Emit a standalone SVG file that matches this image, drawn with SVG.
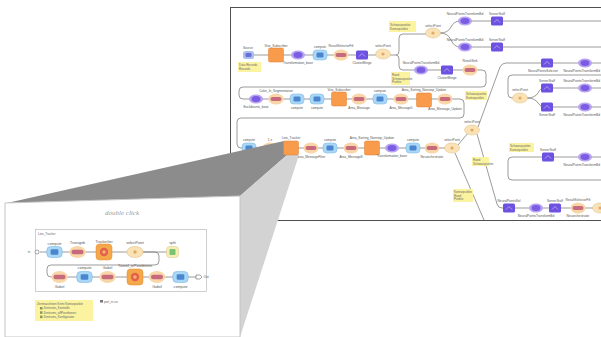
<svg xmlns="http://www.w3.org/2000/svg" xmlns:xlink="http://www.w3.org/1999/xlink" width="601" height="337" viewBox="0 0 601 337">
<style>
.w{stroke:#707070;stroke-width:0.7;fill:none}
.lb{font-family:"Liberation Sans",Arial,sans-serif;font-size:3.2px;fill:#555;text-anchor:middle}
.lbe{font-family:"Liberation Sans",Arial,sans-serif;font-size:3.2px;fill:#555;text-anchor:end}
.lbs{font-family:"Liberation Sans",Arial,sans-serif;font-size:3.6px;fill:#555;text-anchor:middle}
.nt{fill:#fbf3a0}
.ntt{font-family:"Liberation Sans",Arial,sans-serif;font-size:3px;fill:#666}
</style>
<defs>
<g id="blue"><rect x="-7" y="-5" width="14" height="10" rx="3.5" fill="#a9d7f5" stroke="#74b4e2" stroke-width="0.5"/><rect x="-3.5" y="-2.5" width="7" height="5" rx="1.2" fill="#4a86cf"/></g>
<g id="pink"><ellipse rx="7.5" ry="5.5" fill="#f8d6a8"/><rect x="-5.5" y="-2" width="11" height="4" rx="2" fill="#c86a7e"/></g>
<g id="lo"><ellipse rx="7.5" ry="5" fill="#f9e3b6" stroke="#e2bb80" stroke-width="0.5"/><circle r="1.6" fill="#e6a863"/></g>
<g id="osq"><rect x="-7.5" y="-7" width="15" height="14" rx="1.5" fill="#f89c4c" stroke="#e27c32" stroke-width="0.5"/></g>
<g id="psq"><rect x="-6" y="-4.5" width="12" height="9" rx="1.5" fill="#6d52e2"/><path d="M-3,1.5 L0,-1.5 L3,1.5" stroke="#c9bff7" stroke-width="0.7" fill="none"/></g>
<g id="pov"><ellipse rx="7" ry="4.6" fill="#b8a3f2"/><ellipse rx="4.5" ry="3" fill="#7a5de2"/></g>
<g id="big"><rect x="-8" y="-8" width="16" height="16" rx="3.5" fill="#f5a84a" stroke="#e08a30" stroke-width="0.5"/><circle r="4.2" fill="#e2604c"/><circle r="1.8" fill="#f7b070"/></g>
<g id="grn"><rect x="-6" y="-5.5" width="12" height="11" rx="3" fill="#f6ecb8" stroke="#d8c880" stroke-width="0.5"/><rect x="-3" y="-3" width="6" height="6" rx="1" fill="#7cc472"/></g>
</defs>

<!-- main window -->
<rect x="230.5" y="7.5" width="380" height="213" fill="#fff" stroke="#505050" stroke-width="1"/>

<g id="connectors">
<path class="w" d="M254,55 H396 Q399,55 399,51 V38 Q399,34 403,34 H430"/>
<path class="w" d="M396,55 Q399,55 399,59 V66 Q399,70 403,70 H482 Q486,70 486,74 V83 Q486,87 482,87 H243 Q239,87 239,91 V95 Q239,99 243,99 H460 Q464,99 464,103 V114 Q464,118 460,118 H241 Q237,118 237,122 V144 Q237,148 241,148 H452"/>
<path class="w" d="M440,33 Q448,33 451,27 Q454,21 460,21 H601"/>
<path class="w" d="M440,33 Q448,33 451,40 Q454,47 460,47 H601"/>
<path class="w" d="M458,145 L468,133"/>
<path class="w" d="M478,127 L500,67 Q502,63 506,63 H601"/>
<path class="w" d="M477,134 L497,204 Q498,208 502,208 H601"/>
<path class="w" d="M455,153 L484,220"/>
<path class="w" d="M601,75 H512 Q508,75 508,79 V94 Q508,98 512,98 H520"/>
<path class="w" d="M527,98 Q535,98 538,93 Q540,88 545,88 H601"/>
<path class="w" d="M527,98 Q535,98 538,103 Q540,107 545,107 H601"/>
<path class="w" d="M601,180 H512 Q508,180 508,176 V161 Q508,157 512,157 H601"/>
</g>

<!-- notes -->
<g id="note1"><rect class="nt" x="238" y="62" width="23" height="10"/><text class="ntt" x="239" y="66">Data Records</text><text class="ntt" x="239" y="70">Records</text></g>
<g id="note2"><rect class="nt" x="389" y="21" width="27" height="11"/><text class="ntt" x="390" y="25.5">Schwarzpunkte</text><text class="ntt" x="390" y="29.5">Konturpunkte</text></g>
<g id="note3"><rect class="nt" x="391" y="72" width="19" height="13"/><text class="ntt" x="392" y="76">Rand</text><text class="ntt" x="392" y="79.5">Schwarzpunkte</text><text class="ntt" x="392" y="83">Punkte</text></g>
<g id="note4"><rect class="nt" x="465" y="91" width="22" height="9"/><text class="ntt" x="466" y="95">Schwarzpunkte</text><text class="ntt" x="466" y="98.5">Konturpunkte</text></g>
<g id="note5"><rect class="nt" x="509" y="143" width="25" height="9"/><text class="ntt" x="510" y="147">Schwarzpunkte</text><text class="ntt" x="510" y="150.5">Konturpunkte</text></g>
<g id="note6"><rect class="nt" x="472" y="157" width="17" height="9"/><text class="ntt" x="473" y="161">Rand</text><text class="ntt" x="473" y="164.5">Schwarzpunkte</text></g>
<g id="note7"><rect class="nt" x="453" y="189" width="20" height="13"/><text class="ntt" x="454" y="193">Konturpunkte</text><text class="ntt" x="454" y="196.5">Rand</text><text class="ntt" x="454" y="200">Punkte</text></g>

<!-- row 1 -->
<g id="r1a"><rect x="243" y="51" width="11" height="8" rx="2.5" fill="#a8c0ee"/><rect x="245.5" y="53" width="6" height="4" rx="1" fill="#6a6fd8"/><text class="lb" x="248" y="48.5">Source</text></g>
<g id="r1b"><use xlink:href="#osq" x="276" y="55"/><text class="lb" x="276" y="46.5">Vive_Subscriber</text></g>
<g id="r1c"><use xlink:href="#pov" x="298" y="55"/><text class="lb" x="298" y="64">Transformation_base</text></g>
<g id="r1d"><use xlink:href="#blue" x="320" y="55"/><text class="lb" x="320" y="48">compute</text></g>
<g id="r1e"><use xlink:href="#pink" x="341" y="55"/><text class="lb" x="341" y="47">ResultSelectorFilt</text></g>
<g id="r1f"><use xlink:href="#psq" x="362" y="55"/><text class="lb" x="362" y="64">ClusterMerge</text></g>
<g id="r1g"><use xlink:href="#lo" x="383" y="54"/><text class="lb" x="383" y="47">selectPoint</text></g>
<g id="r1h"><use xlink:href="#lo" x="433" y="33"/><text class="lb" x="433" y="26.5">selectPoint</text></g>
<g id="r1i"><use xlink:href="#pov" x="465" y="21"/><text class="lb" x="465" y="14.5">NeuralPointsTransformBd</text></g>
<g id="r1j"><use xlink:href="#psq" x="497" y="21"/><text class="lb" x="497" y="15">ServerStaff</text></g>
<g id="r1k"><use xlink:href="#pov" x="465" y="47"/><text class="lb" x="465" y="40.5">NeuralPointsTransformBd</text></g>
<g id="r1l"><use xlink:href="#psq" x="497" y="47"/><text class="lb" x="497" y="41">ServerStaff</text></g>
<g id="r1m"><use xlink:href="#pov" x="421" y="70"/><text class="lb" x="421" y="63.5">NeuralPointsTransformBd</text></g>
<g id="r1n"><use xlink:href="#psq" x="447" y="70"/><text class="lb" x="447" y="79">ClusterMerge</text></g>
<g id="r1o"><use xlink:href="#pink" x="470" y="70"/><text class="lb" x="470" y="62">ResultSink</text></g>

<!-- row 2 -->
<g id="r2a"><use xlink:href="#pov" x="256" y="99"/><text class="lb" x="256" y="108">Euclideantx_base</text></g>
<g id="r2b"><use xlink:href="#pink" x="276" y="99"/><text class="lb" x="276" y="91.5">Color_In_Segmentation</text></g>
<g id="r2c"><use xlink:href="#blue" x="297" y="99"/><text class="lb" x="297" y="108.5">compute</text></g>
<g id="r2d"><use xlink:href="#blue" x="317" y="99"/><text class="lb" x="317" y="108.5">compute</text></g>
<g id="r2e"><use xlink:href="#osq" x="339" y="99"/><text class="lb" x="339" y="90.5">Vive_Subscriber</text></g>
<g id="r2f"><use xlink:href="#pink" x="359" y="99"/><text class="lb" x="359" y="109">Area_Message</text></g>
<g id="r2g"><use xlink:href="#blue" x="380" y="99"/><text class="lb" x="380" y="92">compute</text></g>
<g id="r2h"><use xlink:href="#pink" x="401" y="99"/><text class="lb" x="401" y="109">Area_Message5</text></g>
<g id="r2i"><use xlink:href="#osq" x="424" y="100"/><text class="lb" x="424" y="91">Area_Sorting_Nonstop_Update</text></g>
<g id="r2j"><use xlink:href="#pink" x="445" y="99"/><text class="lb" x="445" y="110">Area_Message_Update</text></g>

<!-- row 3 -->
<g id="r3a"><use xlink:href="#blue" x="249" y="148"/><text class="lb" x="249" y="140.5">compute</text></g>
<g id="r3b"><use xlink:href="#pink" x="270" y="148"/><text class="lb" x="270" y="141">1 x</text></g>
<g id="r3d"><use xlink:href="#pink" x="311" y="148"/><text class="lb" x="311" y="158">Area_MessageFilter</text></g>
<g id="r3e"><use xlink:href="#blue" x="330" y="148"/><text class="lb" x="330" y="140.5">compute</text></g>
<g id="r3f"><use xlink:href="#pink" x="351" y="148"/><text class="lb" x="351" y="158">Area_Message8</text></g>
<g id="r3g"><use xlink:href="#osq" x="372" y="148"/><text class="lb" x="372" y="138.5">Area_Sorting_Nonstop_Update</text></g>
<g id="r3h"><use xlink:href="#pov" x="392" y="148"/><text class="lb" x="392" y="157">Transformation_base</text></g>
<g id="r3i"><use xlink:href="#blue" x="413" y="148"/><text class="lb" x="413" y="140.5">compute</text></g>
<g id="r3j"><use xlink:href="#pink" x="432" y="148"/><text class="lb" x="432" y="158">Neuorchestrator</text></g>
<g id="r3k"><use xlink:href="#lo" x="452" y="148"/><text class="lb" x="452" y="140.5">selectPoint</text></g>
<g id="r3l"><use xlink:href="#lo" x="472" y="130"/><text class="lb" x="472" y="123">selectPoint</text></g>

<!-- right side -->
<g id="rA"><use xlink:href="#psq" x="547" y="63"/><text class="lb" x="543" y="72">NeuralPointsSelector</text></g>
<g id="rB"><use xlink:href="#pov" x="585" y="63"/><text class="lbe" x="600" y="72">NeuralPointsTransformBd</text></g>
<g id="rC"><use xlink:href="#lo" x="520" y="98"/><text class="lb" x="520" y="91">selectPoint</text></g>
<g id="rD"><use xlink:href="#psq" x="547" y="88"/><text class="lb" x="547" y="81.5">ServerStaff</text></g>
<g id="rE"><use xlink:href="#pov" x="585" y="88"/><text class="lbe" x="600" y="81.5">NeuralPointsTransformBd</text></g>
<g id="rF"><use xlink:href="#psq" x="547" y="107"/><text class="lb" x="547" y="116">ServerStaff</text></g>
<g id="rG"><use xlink:href="#pov" x="585" y="107"/><text class="lbe" x="600" y="116">NeuralPointsTransformBd</text></g>
<g id="rH"><use xlink:href="#psq" x="548" y="157"/><text class="lb" x="548" y="150.5">ServerStaff</text></g>
<g id="rI"><use xlink:href="#pov" x="585" y="157"/><text class="lbe" x="600" y="166">NeuralPointsTransformBd</text></g>
<g id="rJ"><use xlink:href="#psq" x="509" y="208"/><text class="lb" x="509" y="201.5">NeuralPointsSel</text></g>
<g id="rK"><use xlink:href="#pov" x="536" y="208"/><text class="lb" x="536" y="217">NeuralPointsTransformBd</text></g>
<g id="rL"><use xlink:href="#psq" x="555" y="208"/><text class="lb" x="555" y="201.5">ServerStaff</text></g>
<g id="rM"><use xlink:href="#pink" x="578" y="208"/><text class="lb" x="578" y="200.5">ResultSelectorFilt</text><text class="lb" x="578" y="217">Neuorchestrator</text></g>
<g id="rN"><use xlink:href="#lo" x="600" y="208"/></g>

<!-- zoom projection -->
<polygon points="7,203 284,141 287,155 240,196" fill="#8c8c8c"/>
<polygon points="240,196 287,155 299,155 240,337" fill="#d3d3d3"/>
<g id="r3c"><use xlink:href="#osq" x="291" y="148"/><text class="lb" x="291" y="138.5">Line_Tracker</text></g>

<!-- inset panel -->
<polygon points="5,203 240,196 240,337 5,337" fill="#fff" stroke="#c4c4c4" stroke-width="1"/>
<text x="122" y="215" font-family="Liberation Serif, serif" font-style="italic" font-size="7" fill="#9a9a9a" text-anchor="middle">double click</text>
<rect x="35.5" y="229.5" width="171" height="62" fill="none" stroke="#b0b0b0" stroke-width="0.6"/>
<text class="ntt" x="38" y="234.5" fill="#555">Line_Tracker</text>

<g id="inset-connectors">
<path class="w" d="M40,252 H155 Q159,252 159,256 V261 Q159,265 155,265 H51 Q47,265 47,269 V273 Q47,277 51,277 H196"/>
<path class="w" d="M142,252 H167"/>
</g>
<g id="i-in"><text class="lb" x="29" y="253.2">in</text><circle cx="37" cy="252" r="2" fill="#fff" stroke="#666" stroke-width="0.6"/></g>
<g id="i1"><use xlink:href="#blue" transform="translate(54.5,252) scale(1.1)"/><text class="lbs" x="54.5" y="244.5">compute</text></g>
<g id="i2"><use xlink:href="#pink" transform="translate(77.5,252) scale(1.1)"/><text class="lbs" x="77.5" y="243.5">Transgeb</text></g>
<g id="i3"><use xlink:href="#big" x="104" y="252"/><text class="lbs" x="104" y="242.5">TrackerIter</text></g>
<g id="i4"><use xlink:href="#lo" transform="translate(135,252) scale(1.1)"/><text class="lbs" x="135" y="243.5">selectPoint</text></g>
<g id="i5"><use xlink:href="#grn" x="172.5" y="252"/><text class="lbs" x="172.5" y="244">split</text></g>
<g id="i6"><use xlink:href="#pink" transform="translate(59.5,277) scale(1.1)"/><text class="lbs" x="59.5" y="287.5">Gabel</text></g>
<g id="i7"><use xlink:href="#blue" transform="translate(84.5,277) scale(1.1)"/><text class="lbs" x="84.5" y="269">compute</text></g>
<g id="i8"><use xlink:href="#pink" transform="translate(107.5,277) scale(1.1)"/><text class="lbs" x="107.5" y="268.5">Gabel</text></g>
<g id="i9"><use xlink:href="#big" x="135" y="277"/><text class="lbs" x="135" y="267">Tunnel_orPosebenes</text></g>
<g id="i10"><use xlink:href="#pink" transform="translate(157,277) scale(1.1)"/><text class="lbs" x="157" y="287.5">Gabel</text></g>
<g id="i11"><use xlink:href="#blue" transform="translate(180.5,277) scale(1.1)"/><text class="lbs" x="180.5" y="287.5">compute</text></g>
<g id="i-out"><path d="M196,275 H200 L202,277 L200,279 H196 Z" fill="#fff" stroke="#666" stroke-width="0.6"/><text class="lb" x="206" y="278.2">Out</text></g>

<g id="inote"><rect class="nt" x="35" y="300" width="58" height="21"/>
<text class="ntt" x="37" y="304.5">Zenmaschinen Krimi Konturpunkte</text>
<rect x="40" y="307" width="2.5" height="2.5" fill="#8a9a50"/><text class="ntt" x="43.5" y="309.4">Zentrums_Kontrolle</text>
<rect x="40" y="311.3" width="2.5" height="2.5" fill="#8a9a50"/><text class="ntt" x="43.5" y="313.7">Zentrums_offPosebenes</text>
<rect x="40" y="315.6" width="2.5" height="2.5" fill="#8a9a50"/><text class="ntt" x="43.5" y="318">Zentrums_Konfigurator</text>
</g>
<g id="iport"><rect x="100" y="300" width="3" height="2.5" fill="#777"/><text class="ntt" x="104" y="302.5">port_in-src</text></g>
</svg>
